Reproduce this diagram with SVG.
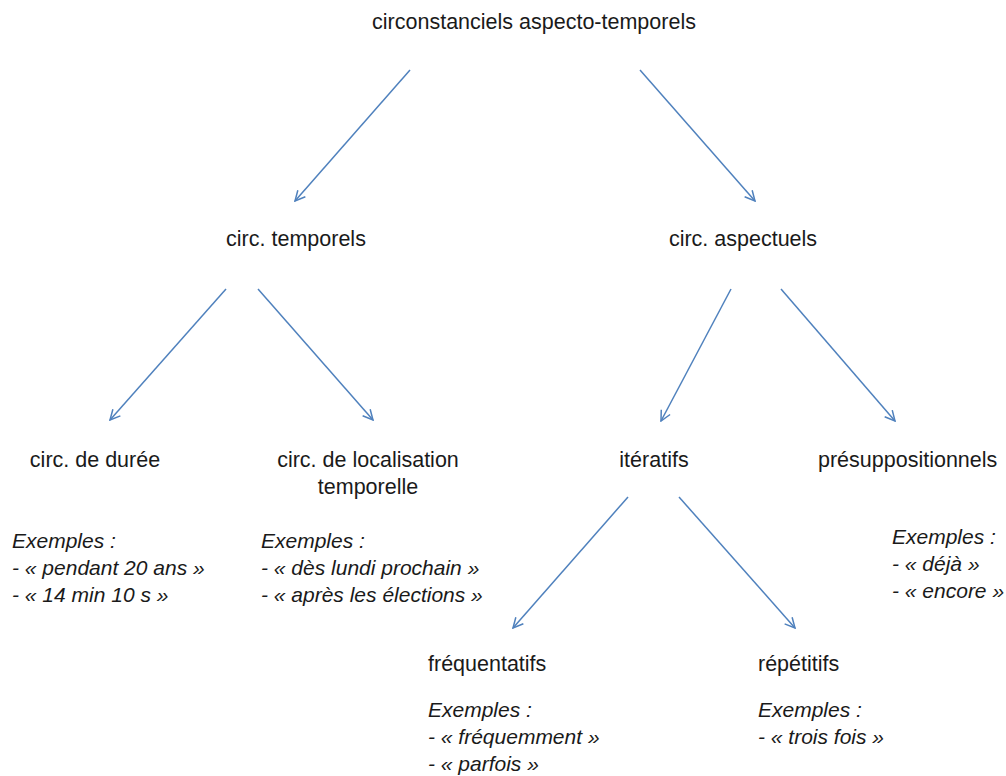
<svg xmlns="http://www.w3.org/2000/svg" width="1006" height="776" viewBox="0 0 1006 776">
<style>
text{font-family:"Liberation Sans",Arial,sans-serif;font-size:21.5px;fill:#1a1a1a}
.c{text-anchor:middle}
.i{font-style:italic;font-size:21px}
.e line{stroke:#4F81BD;stroke-width:1.5;fill:none}
</style>
<defs>
<marker id="a" viewBox="0 0 12 12" refX="11" refY="6" markerWidth="12" markerHeight="12" markerUnits="userSpaceOnUse" orient="auto">
<polyline points="1,1 11,6 1,11" fill="none" stroke="#4F81BD" stroke-width="1.5"/>
</marker>
</defs>
<rect width="1006" height="776" fill="#fff"/>
<g class="e" id="edges">
<line x1="410" y1="70" x2="295" y2="201" marker-end="url(#a)"/>
<line x1="640" y1="70" x2="755" y2="201" marker-end="url(#a)"/>
<line x1="226" y1="289" x2="110" y2="420" marker-end="url(#a)"/>
<line x1="258" y1="289" x2="373" y2="420" marker-end="url(#a)"/>
<line x1="731" y1="289" x2="661" y2="421" marker-end="url(#a)"/>
<line x1="781" y1="289" x2="895" y2="421" marker-end="url(#a)"/>
<line x1="628" y1="497" x2="513" y2="628" marker-end="url(#a)"/>
<line x1="679" y1="497" x2="795" y2="628" marker-end="url(#a)"/>
</g>
<g id="root"><text class="c" x="534" y="29">circonstanciels aspecto-temporels</text></g>
<g id="temporels"><text class="c" x="296" y="246">circ. temporels</text></g>
<g id="aspectuels"><text class="c" x="743" y="246">circ. aspectuels</text></g>
<g id="duree">
<text class="c" x="95" y="467">circ. de durée</text>
<text class="i" x="12" y="548">Exemples :</text>
<text class="i" x="12" y="575">- « pendant 20 ans »</text>
<text class="i" x="12" y="602">- « 14 min 10 s »</text>
</g>
<g id="localisation">
<text class="c" x="368" y="467">circ. de localisation</text>
<text class="c" x="368" y="494">temporelle</text>
<text class="i" x="261" y="548">Exemples :</text>
<text class="i" x="261" y="575">- « dès lundi prochain »</text>
<text class="i" x="261" y="602">- « après les élections »</text>
</g>
<g id="iteratifs"><text class="c" x="654" y="467">itératifs</text></g>
<g id="presupp">
<text x="818" y="467">présuppositionnels</text>
<text class="i" x="892" y="544">Exemples :</text>
<text class="i" x="892" y="571">- « déjà »</text>
<text class="i" x="892" y="598">- « encore »</text>
</g>
<g id="frequentatifs">
<text x="428" y="671">fréquentatifs</text>
<text class="i" x="428" y="717">Exemples :</text>
<text class="i" x="428" y="744">- « fréquemment »</text>
<text class="i" x="428" y="771">- « parfois »</text>
</g>
<g id="repetitifs">
<text x="758" y="671">répétitifs</text>
<text class="i" x="758" y="717">Exemples :</text>
<text class="i" x="758" y="744">- « trois fois »</text>
</g>
</svg>
